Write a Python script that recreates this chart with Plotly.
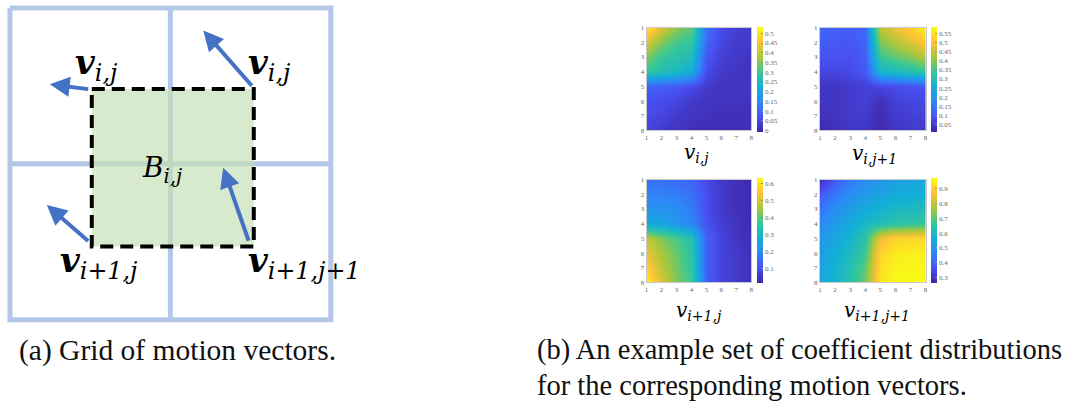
import plotly.graph_objects as go

W, H = 1087, 410

# ---------------- data ----------------
# (a) grid of motion vectors, in grid-cell units (row index grows downward)
grid_bounds = [0, 1, 2]
block_x = [0.51, 1.52]
block_y = [0.52, 1.53]
vec_tail_x = [0.497, 1.516, 0.497, 1.491]
vec_tail_y = [0.522, 0.509, 1.503, 1.503]
vec_dx = [-0.249, -0.311, -0.267, -0.162]
vec_dy = [-0.032, -0.364, -0.239, -0.478]
vec_labels = ["<b><i>v</i></b><sub><i>i,j</i></sub>",
              "<b><i>v</i></b><sub><i>i,j</i></sub>",
              "<b><i>v</i></b><sub><i>i+1,j</i></sub>",
              "<b><i>v</i></b><sub><i>i+1,j+1</i></sub>"]
vec_label_x = [0.39, 1.47, 0.30, 1.47]
vec_label_y = [0.36, 0.36, 1.63, 1.63]
block_label = "<i>B</i><sub><i>i,j</i></sub>"

# (b) coefficient maps (8x8, rows 1..8 top to bottom, cols 1..8)
idx = [1, 2, 3, 4, 5, 6, 7, 8]
coef_vij = [
    [0.52, 0.42, 0.36, 0.33, 0.12, 0.06, 0.04, 0.03],
    [0.42, 0.35, 0.31, 0.29, 0.10, 0.05, 0.03, 0.03],
    [0.35, 0.30, 0.28, 0.26, 0.08, 0.04, 0.03, 0.02],
    [0.30, 0.27, 0.25, 0.22, 0.06, 0.03, 0.02, 0.02],
    [0.10, 0.09, 0.08, 0.06, 0.03, 0.02, 0.02, 0.03],
    [0.07, 0.06, 0.05, 0.03, 0.02, 0.02, 0.02, 0.02],
    [0.06, 0.05, 0.03, 0.02, 0.02, 0.01, 0.01, 0.01],
    [0.05, 0.03, 0.02, 0.01, 0.01, 0.01, 0.01, 0.01],
]
coef_vij1 = [
    [0.12, 0.12, 0.11, 0.13, 0.44, 0.49, 0.53, 0.58],
    [0.11, 0.10, 0.10, 0.12, 0.39, 0.43, 0.47, 0.52],
    [0.10, 0.09, 0.09, 0.11, 0.34, 0.37, 0.40, 0.44],
    [0.07, 0.07, 0.08, 0.10, 0.27, 0.29, 0.31, 0.33],
    [0.04, 0.04, 0.05, 0.06, 0.07, 0.08, 0.09, 0.10],
    [0.04, 0.04, 0.05, 0.06, 0.03, 0.06, 0.07, 0.07],
    [0.03, 0.04, 0.05, 0.05, 0.02, 0.05, 0.06, 0.06],
    [0.02, 0.03, 0.04, 0.04, 0.02, 0.04, 0.05, 0.05],
]
coef_vi1j = [
    [0.15, 0.15, 0.14, 0.13, 0.08, 0.05, 0.03, 0.02],
    [0.18, 0.18, 0.17, 0.15, 0.09, 0.05, 0.03, 0.02],
    [0.22, 0.21, 0.20, 0.17, 0.09, 0.05, 0.03, 0.02],
    [0.26, 0.25, 0.22, 0.19, 0.10, 0.06, 0.04, 0.02],
    [0.48, 0.42, 0.38, 0.33, 0.12, 0.07, 0.04, 0.03],
    [0.52, 0.45, 0.40, 0.34, 0.12, 0.07, 0.05, 0.03],
    [0.56, 0.47, 0.41, 0.35, 0.12, 0.07, 0.05, 0.03],
    [0.62, 0.50, 0.42, 0.36, 0.12, 0.07, 0.05, 0.03],
]
coef_vi1j1 = [
    [0.28, 0.38, 0.44, 0.47, 0.50, 0.52, 0.53, 0.54],
    [0.38, 0.44, 0.48, 0.51, 0.53, 0.55, 0.56, 0.57],
    [0.43, 0.48, 0.52, 0.55, 0.57, 0.59, 0.60, 0.61],
    [0.47, 0.51, 0.55, 0.59, 0.62, 0.64, 0.65, 0.66],
    [0.50, 0.54, 0.58, 0.64, 0.85, 0.90, 0.91, 0.91],
    [0.52, 0.56, 0.60, 0.67, 0.90, 0.94, 0.95, 0.95],
    [0.53, 0.57, 0.62, 0.70, 0.92, 0.96, 0.96, 0.96],
    [0.54, 0.58, 0.63, 0.72, 0.93, 0.96, 0.97, 0.97],
]
maps = [coef_vij, coef_vij1, coef_vi1j, coef_vi1j1]
map_titles = ["<i>v</i><sub><i>i,j</i></sub>", "<i>v</i><sub><i>i,j+1</i></sub>",
              "<i>v</i><sub><i>i+1,j</i></sub>", "<i>v</i><sub><i>i+1,j+1</i></sub>"]
zmins = [-0.005, 0.01, 0.01, 0.26]
zmaxs = [0.535, 0.59, 0.63, 0.97]
cb_ticks = [
    [0, 0.05, 0.1, 0.15, 0.2, 0.25, 0.3, 0.35, 0.4, 0.45, 0.5],
    [0.05, 0.1, 0.15, 0.2, 0.25, 0.3, 0.35, 0.4, 0.45, 0.5, 0.55],
    [0.1, 0.2, 0.3, 0.4, 0.5, 0.6],
    [0.3, 0.4, 0.5, 0.6, 0.7, 0.8, 0.9],
]

caption_a = "(a) Grid of motion vectors."
caption_b1 = "(b) An example set of coefficient distributions"
caption_b2 = "for the corresponding motion vectors."

# ---------------- styling / layout ----------------
parula = [
    [0.0, "rgb(62,38,168)"], [0.1429, "rgb(72,82,244)"], [0.2857, "rgb(46,135,247)"],
    [0.4286, "rgb(18,177,214)"], [0.5714, "rgb(55,200,151)"], [0.7143, "rgb(171,199,57)"],
    [0.8571, "rgb(254,195,56)"], [1.0, "rgb(249,251,21)"],
]

def fx(px):
    return px / W

def fy(py):
    return 1 - py / H

fig = go.Figure()

# ----- panel (a) -----
UX, UY = 161.0, 159.0
OX, OY = 8.0, 4.0
ax_a = dict(domain=[0, fx(360)], range=[(0 - OX) / UX, (360 - OX) / UX],
            visible=False, fixedrange=True)
ay_a = dict(domain=[fy(330), 1], range=[(330 - OY) / UY, (0 - OY) / UY],
            visible=False, fixedrange=True)

g0, g1 = grid_bounds[0], grid_bounds[-1]
gx = [g0, g1, g1, g0, g0, None]
gy = [g0, g0, g1, g1, g0, None]
for b in grid_bounds[1:-1]:
    gx += [b, b, None, g0, g1, None]
    gy += [g0, g1, None, b, b, None]
fig.add_trace(go.Scatter(x=gx, y=gy, mode="lines", xaxis="x5", yaxis="y5",
                         line=dict(color="#b4c7e7", width=5), hoverinfo="skip",
                         showlegend=False))

bx = [block_x[0], block_x[1], block_x[1], block_x[0], block_x[0]]
by = [block_y[0], block_y[0], block_y[1], block_y[1], block_y[0]]
fig.add_trace(go.Scatter(x=bx, y=by, mode="lines", fill="toself", xaxis="x5", yaxis="y5",
                         fillcolor="rgba(197,224,180,0.67)", line=dict(width=0),
                         hoverinfo="skip", showlegend=False))
fig.add_trace(go.Scatter(x=bx, y=by, mode="lines", xaxis="x5", yaxis="y5",
                         line=dict(color="black", width=4, dash="13px,7px"),
                         hoverinfo="skip", showlegend=False))

annotations = []
for tx, ty, dx, dy in zip(vec_tail_x, vec_tail_y, vec_dx, vec_dy):
    annotations.append(dict(x=tx + dx, y=ty + dy, ax=tx, ay=ty, xref="x5", yref="y5",
                            axref="x5", ayref="y5", text="", showarrow=True,
                            arrowhead=2, arrowsize=1, arrowwidth=4,
                            arrowcolor="#4472c4", standoff=0, startstandoff=0))
for lx, ly, t in zip(vec_label_x, vec_label_y, vec_labels):
    annotations.append(dict(x=lx, y=ly, xref="x5", yref="y5", text=t, showarrow=False,
                            xanchor="left", yanchor="middle",
                            font=dict(family="DejaVu Serif", size=34, color="black")))
annotations.append(dict(x=0.81, y=1.035, xref="x5", yref="y5", text=block_label,
                        showarrow=False, xanchor="left", yanchor="middle",
                        font=dict(family="DejaVu Serif", size=28, color="black")))

# ----- panel (b) -----
boxes = [(647, 752, 24, 129), (821, 927, 24, 129), (647, 752, 179, 284), (821, 927, 179, 284)]
cb_left = [758, 932, 758, 932]
title_pos = [(697, 152), (876, 153), (700, 313), (878, 313)]

layout_axes = {}
for k, (z, (x0, x1, y0, y1)) in enumerate(zip(maps, boxes)):
    n = k + 1
    xa = "x" if n == 1 else f"x{n}"
    ya = "y" if n == 1 else f"y{n}"
    fig.add_trace(go.Heatmap(
        z=z, x=idx, y=idx, xaxis=xa, yaxis=ya, zsmooth="best",
        colorscale=parula, zmin=zmins[k], zmax=zmaxs[k],
        colorbar=dict(x=fx(cb_left[k]), xanchor="left", y=fy((y0 + y1) / 2), yanchor="middle",
                      len=y1 - y0, lenmode="pixels", thickness=6, thicknessmode="pixels",
                      outlinewidth=0, xpad=0, ypad=0, tickvals=cb_ticks[k],
                      ticktext=[f"{v:g}" for v in cb_ticks[k]],
                      ticks="inside", ticklen=2, tickcolor="#888",
                      tickfont=dict(family="Liberation Serif", size=7, color="#666")),
        hoverinfo="skip"))
    common = dict(showgrid=False, zeroline=False, showline=True, linecolor="#c8c8c8",
                  linewidth=1, mirror=True, ticks="", tickvals=idx,
                  tickfont=dict(family="Liberation Serif", size=7, color="#666"),
                  fixedrange=True)
    layout_axes["xaxis" if n == 1 else f"xaxis{n}"] = dict(
        domain=[fx(x0), fx(x1)], range=[1, 8], anchor=ya, **common)
    layout_axes["yaxis" if n == 1 else f"yaxis{n}"] = dict(
        domain=[fy(y1), fy(y0)], range=[8, 1], anchor=xa, **common)
    tx, ty = title_pos[k]
    annotations.append(dict(x=fx(tx), y=fy(ty), xref="paper", yref="paper",
                            text=map_titles[k], showarrow=False, xanchor="center",
                            yanchor="middle",
                            font=dict(family="DejaVu Serif", size=20, color="black")))

# ----- captions -----
annotations.append(dict(x=fx(15), y=fy(353), xref="paper", yref="paper", text=caption_a,
                        showarrow=False, xanchor="left", yanchor="middle",
                        font=dict(family="Liberation Serif", size=29.5, color="#111")))
cap_font_b = dict(family="Liberation Serif", size=28.5, color="#111")
annotations.append(dict(x=fx(535), y=fy(353), xref="paper", yref="paper", text=caption_b1,
                        showarrow=False, xanchor="left", yanchor="middle", font=cap_font_b))
annotations.append(dict(x=fx(535), y=fy(389), xref="paper", yref="paper", text=caption_b2,
                        showarrow=False, xanchor="left", yanchor="middle", font=cap_font_b))

fig.update_layout(
    width=W, height=H, margin=dict(l=0, r=0, t=0, b=0),
    paper_bgcolor="white", plot_bgcolor="white", showlegend=False,
    xaxis5=dict(anchor="y5", **ax_a), yaxis5=dict(anchor="x5", **ay_a),
    annotations=annotations, **layout_axes,
)

fig.write_html("out.html", config={"displayModeBar": False},
               post_script="document.body.style.margin='0';")
